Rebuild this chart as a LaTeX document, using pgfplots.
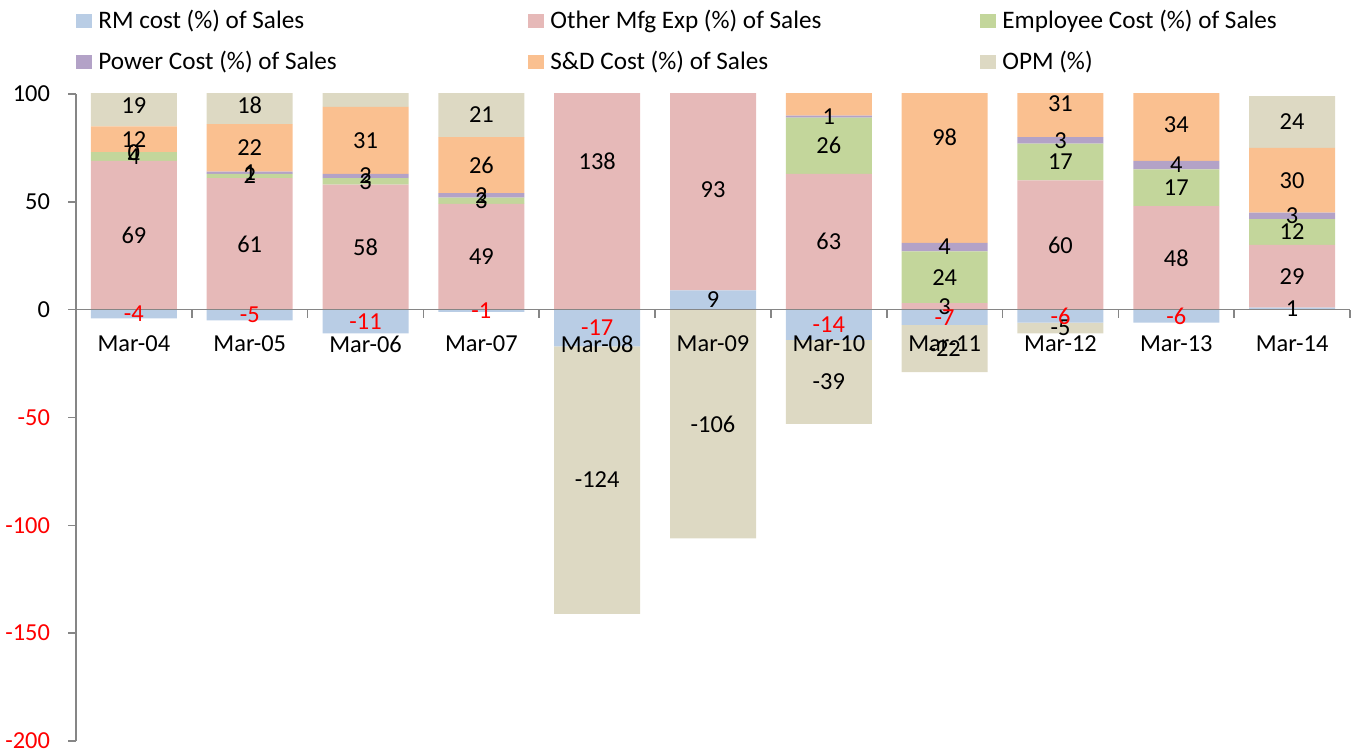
\documentclass[border=0pt]{standalone}
\usepackage{pgfplots}
\usepackage{pgfplotstable}
\pgfplotsset{compat=1.18}
\usepackage{fontspec}
\setmainfont{Carlito}
\definecolor{cRM}{HTML}{B9CDE5}
\definecolor{cOM}{HTML}{E6B9B8}
\definecolor{cEC}{HTML}{C3D69B}
\definecolor{cPC}{HTML}{B3A2C7}
\definecolor{cSD}{HTML}{FAC090}
\definecolor{cOPM}{HTML}{DDD9C3}
\definecolor{axisgray}{HTML}{868686}
\newcommand{\fs}{\fontsize{12.2}{14}\selectfont}
\newcommand{\lfs}{\fontsize{12.6}{14}\selectfont}
\pgfplotsset{sqleg/.style={legend image code/.code={\fill[##1] (0pt,-3.5pt) rectangle (8pt,3.5pt);}}}

% positive parts and negative parts (negatives stack separately downward from zero)
\pgfplotstableread{
x RMp OM EC PC SD OPMp RMn OPMn
0 0 69 4 0 12 19 -4 0
1 0 61 2 1 22 18 -5 0
2 0 58 3 2 31 17 -11 0
3 0 49 3 2 26 21 -1 0
4 0 138 28 5 70 0 -17 -124
5 9 93 30 4 70 0 0 -106
6 0 63 26 1 63 0 -14 -39
7 0 3 24 4 98 0 -7 -22
8 0 60 17 3 31 0 -6 -5
9 0 48 17 4 34 3 -6 0
10 1 29 12 3 30 24 0 0
}\bars

\pgfplotstableread{
x y lab
0 34.5 69
0 71 4
0 73 0
0 79 12
0 94.5 19
1 30.5 61
1 62 2
1 63.5 1
1 75 22
1 95 18
2 29 58
2 59.5 3
2 62 2
2 78.5 31
3 24.5 49
3 50.5 3
3 53 2
3 67 26
3 90.5 21
4 69 138
4 -79 -124
5 4.5 9
5 55.5 93
5 -53 -106
6 31.5 63
6 76 26
6 89.5 1
6 -33.5 -39
7 1.5 3
7 15 24
7 29 4
7 80 98
7 -18 -22
8 30 60
8 68.5 17
8 78.5 3
8 95.5 31
8 -8.5 -5
9 24 48
9 56.5 17
9 67 4
9 86 34
10 0.5 1
10 15.5 29
10 36 12
10 43.5 3
10 60 30
10 87 24
}\blacklabels

\pgfplotstableread{
x y lab
0 -2 -4
1 -2.5 -5
2 -5.5 -11
3 -0.5 -1
4 -8.5 -17
6 -7 -14
7 -3.5 -7
8 -3 -6
9 -3 -6
}\redlabels

\begin{document}
\begin{tikzpicture}
\begin{axis}[
  scale only axis, width=637pt, height=323.5pt,
  xmin=-0.5, xmax=10.5, ymin=-200, ymax=100,
  enlargelimits=false,
  ybar stacked, bar width=43pt,
  axis on top,
  axis y line=left, axis x line=middle,
  axis line style={-, draw=axisgray, line width=0.8pt},
  every inner x axis line/.append style={-},
  every outer y axis line/.append style={-},
  hide obscured x ticks=false, hide obscured y ticks=false,
  tick align=outside,
  major tick length=4pt, minor tick length=4pt,
  xtick={0,...,10},
  xticklabels={Mar-04,Mar-05,Mar-06,Mar-07,Mar-08,Mar-09,Mar-10,Mar-11,Mar-12,Mar-13,Mar-14},
  minor xtick={-0.5,0.5,...,10.5},
  major x tick style={draw=none},
  minor x tick style={draw=axisgray, line width=0.8pt},
  ytick={-200,-150,-100,-50,0,50,100},
  yticklabels={\textcolor{red}{-200},\textcolor{red}{-150},\textcolor{red}{-100},\textcolor{red}{-50},0,50,100},
  y tick style={draw=axisgray, line width=0.8pt},
  ticklabel style={font=\fs, text=black},
  xticklabel style={yshift=-5.5pt},
  yticklabel style={xshift=-5.5pt},
  legend columns=3,
  legend style={at={(0,1.1298)}, anchor=north west, draw=none, fill=none,
    font=\lfs, inner sep=0pt, row sep=9.5pt,
    nodes={inner sep=0pt}},
  legend cell align=left,
]
\addplot[fill=cRM, draw=none, sqleg] table[x=x,y=RMp]{\bars};
\addlegendentry{\makebox[218pt][l]{\hspace{3pt}RM cost (\%) of Sales}}
\addplot[fill=cOM, draw=none, sqleg] table[x=x,y=OM]{\bars};
\addlegendentry{\makebox[218pt][l]{\hspace{3pt}Other Mfg Exp (\%) of Sales}}
\addplot[fill=cEC, draw=none, sqleg] table[x=x,y=EC]{\bars};
\addlegendentry{\hspace{3pt}Employee Cost (\%) of Sales}
\addplot[fill=cPC, draw=none, sqleg] table[x=x,y=PC]{\bars};
\addlegendentry{\makebox[218pt][l]{\hspace{3pt}Power Cost (\%) of Sales}}
\addplot[fill=cSD, draw=none, sqleg] table[x=x,y=SD]{\bars};
\addlegendentry{\makebox[218pt][l]{\hspace{3pt}S\&D Cost (\%) of Sales}}
\addplot[fill=cOPM, draw=none, sqleg] table[x=x,y=OPMp]{\bars};
\addlegendentry{\hspace{3pt}OPM (\%)}
\addplot[fill=cRM, draw=none] table[x=x,y=RMn]{\bars};
\addplot[fill=cOPM, draw=none] table[x=x,y=OPMn]{\bars};
\end{axis}
\begin{axis}[
  scale only axis, width=637pt, height=323.5pt,
  xmin=-0.5, xmax=10.5, ymin=-200, ymax=100,
  enlargelimits=false, axis lines=none, clip=false,
]
\addplot[draw=none, mark=none, nodes near coords, point meta=explicit symbolic,
  nodes near coords style={anchor=center, text=black, font=\fs, inner sep=0pt}]
  table[x=x,y=y,meta=lab]{\blacklabels};
\addplot[draw=none, mark=none, nodes near coords, point meta=explicit symbolic,
  nodes near coords style={anchor=center, text=red, font=\fs, inner sep=0pt}]
  table[x=x,y=y,meta=lab]{\redlabels};
\end{axis}
\pgfresetboundingbox
\path[use as bounding box] (-38pt,-6.5pt) rectangle (641.5pt,370.5pt);
\end{tikzpicture}
\end{document}
